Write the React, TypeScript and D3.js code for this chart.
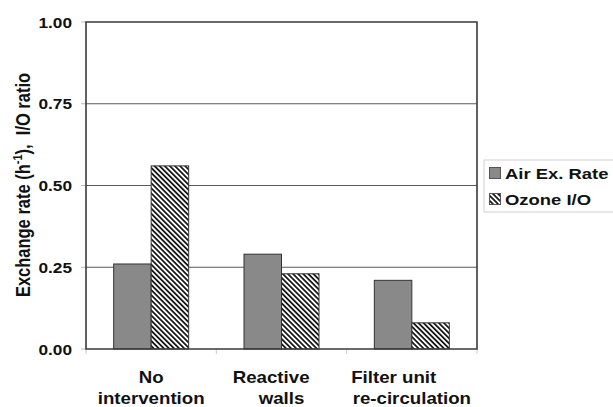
import React from "react";
import * as d3 from "d3";

const categories = ["No intervention", "Reactive walls", "Filter unit re-circulation"];
const categoryLines = [
  ["No", "intervention"],
  ["Reactive\u00a0\u00a0\u00a0\u00a0", "walls"],
  ["Filter unit\u00a0\u00a0\u00a0\u00a0\u00a0\u00a0\u00a0", "re-circulation"],
];
const seriesNames = ["Air Ex. Rate", "Ozone I/O"];
const airExRate = [0.26, 0.29, 0.21];
const ozoneIO = [0.56, 0.23, 0.08];
const yTicks = [0, 0.25, 0.5, 0.75, 1.0];

const W = 613;
const H = 407;
const M = { left: 86, right: 477, top: 22, bottom: 349 };
const SX = 1.19;
const FONT = "'Liberation Sans', Arial, sans-serif";

function T({ x, y, children, anchor = "start", size = 15.5, rotate = 0 }: any) {
  return (
    <g transform={`translate(${x},${y}) scale(${SX},1) rotate(${rotate})`}>
      <text
        textAnchor={anchor}
        fontFamily={FONT}
        fontWeight="bold"
        fontSize={size}
        fill="#111"
        style={{ whiteSpace: "pre" }}
      >
        {children}
      </text>
    </g>
  );
}

export default function App() {
  const y = d3.scaleLinear().domain([0, 1]).range([M.bottom, M.top]);
  const x0 = d3
    .scaleBand<string>()
    .domain(categories)
    .range([M.left, M.right])
    .paddingInner(0.4245)
    .paddingOuter(0.21225);
  const x1 = d3.scaleBand<string>().domain(seriesNames).range([0, x0.bandwidth()]).padding(0);
  const series = [airExRate, ozoneIO];
  const fills = ["#898989", "url(#hatch)"];

  return (
    <svg
      width={W}
      height={H}
      style={{ position: "absolute", left: 0, top: 0, background: "#fff" }}
    >
      <defs>
        <pattern
          id="hatch"
          patternUnits="userSpaceOnUse"
          width={3.6}
          height={3.6}
          patternTransform="rotate(45)"
        >
          <rect width={3.6} height={3.6} fill="#fff" />
          <rect width={3.6} height={1.8} fill="#1a1a1a" />
        </pattern>
      </defs>

      {/* gridlines */}
      {yTicks
        .filter((t) => t > 0 && t < 1)
        .map((t) => (
          <line key={t} x1={M.left} x2={M.right} y1={y(t)} y2={y(t)} stroke="#5a5a5a" strokeWidth={1.2} />
        ))}

      {/* y ticks */}
      {yTicks.map((t) => (
        <g key={"yt" + t}>
          <line x1={M.left - 5} x2={M.left} y1={y(t)} y2={y(t)} stroke="#bbb" strokeWidth={1} />
          <T x={72} y={y(t) + 5.5} anchor="end" size={14.5}>
            {d3.format(".2f")(t)}
          </T>
        </g>
      ))}

      {/* x ticks */}
      {[M.left, ...categories.map((c) => (x0(c) as number) + x0.bandwidth() + (x0.step() - x0.bandwidth()) / 2)].map(
        (xx, i) => (
          <line key={"xt" + i} x1={xx} x2={xx} y1={M.bottom} y2={M.bottom + 5} stroke="#ccc" strokeWidth={1} />
        )
      )}

      {/* bars */}
      {categories.map((c, ci) =>
        series.map((s, si) => {
          const bx = (x0(c) as number) + (x1(seriesNames[si]) as number);
          return (
            <rect
              key={c + si}
              x={bx}
              y={y(s[ci])}
              width={x1.bandwidth()}
              height={M.bottom - y(s[ci])}
              fill={fills[si]}
              stroke="#333"
              strokeWidth={1}
            />
          );
        })
      )}

      {/* frame */}
      <path
        d={`M${M.left},${M.top} H${M.right} V${M.bottom} H${M.left} Z`}
        fill="none"
        stroke="#3a3a3a"
        strokeWidth={1.6}
      />

      {/* x labels */}
      {categories.map((c, ci) => {
        const cx = (x0(c) as number) + x0.bandwidth() / 2;
        return categoryLines[ci].map((ln, li) => (
          <T key={c + li} x={cx} y={382.5 + li * 21} anchor="middle" size={15.7}>
            {ln}
          </T>
        ));
      })}

      {/* y title */}
      <g transform={`translate(30,185) scale(${SX},1) rotate(-90)`}>
        <text textAnchor="middle" fontFamily={FONT} fontWeight="bold" fontSize={16.5} fill="#111" style={{ whiteSpace: "pre" }}>
          {"Exchange rate (h"}
          <tspan fontSize={11} dy={-6.5}>-1</tspan>
          <tspan dy={6.5}>{"),  I/O ratio"}</tspan>
        </text>
      </g>

      {/* legend */}
      <rect x={484} y={160} width={140} height={52} fill="#fff" stroke="#d0d0d0" strokeWidth={1} />
      {seriesNames.map((n, i) => (
        <g key={n}>
          <rect x={489.5} y={167.5 + i * 26} width={11} height={11} fill={fills[i]} stroke="#555" strokeWidth={1} />
          <T x={505} y={178.5 + i * 26} size={15.5}>
            {n}
          </T>
        </g>
      ))}
    </svg>
  );
}
